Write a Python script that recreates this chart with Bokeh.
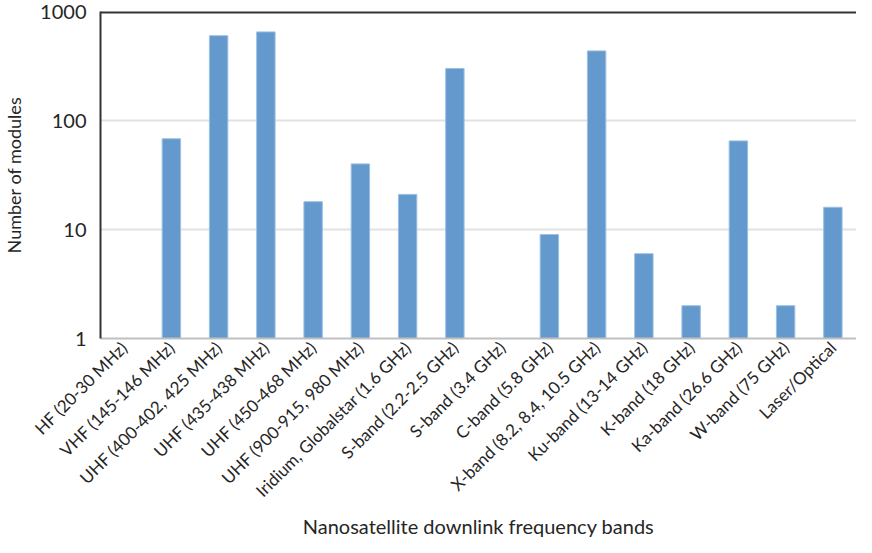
from bokeh.plotting import figure
from bokeh.models import ColumnDataSource, FixedTicker, PrintfTickFormatter, Span, Range1d, Title
from bokeh.embed import file_html
from bokeh.resources import INLINE
import math

bands = [
    "HF (20-30 MHz)",
    "VHF (145-146 MHz)",
    "UHF (400-402, 425 MHz)",
    "UHF (435-438 MHz)",
    "UHF (450-468 MHz)",
    "UHF (900-915, 980 MHz)",
    "Iridium, Globalstar (1.6 GHz)",
    "S-band (2.2-2.5 GHz)",
    "S-band (3.4 GHz)",
    "C-band (5.8 GHz)",
    "X-band (8.2, 8.4, 10.5 GHz)",
    "Ku-band (13-14 GHz)",
    "K-band (18 GHz)",
    "Ka-band (26.6 GHz)",
    "W-band (75 GHz)",
    "Laser/Optical",
]
modules = [1, 68, 600, 650, 18, 40, 21, 300, 1, 9, 435, 6, 2, 65, 2, 16]
y_ticks = [1, 10, 100, 1000]
x_title = "Nanosatellite downlink frequency bands"

FONT = "Lato"
TXT = "#262626"

src = ColumnDataSource(dict(band=bands, top=modules, bottom=[1] * len(modules)))

p = figure(
    x_range=bands,
    y_axis_type="log",
    y_range=Range1d(1, 1000),
    width=856,
    height=537,
    output_backend="svg",
    toolbar_location=None,
    min_border_left=0,
    min_border_right=0,
    min_border_top=11,
    min_border_bottom=0,
)

p.vbar(x="band", top="top", bottom="bottom", width=0.39, source=src,
       fill_color="#6399CC", line_color="#9DBFE3", line_width=1)

p.add_layout(Span(location=1000, dimension="width", line_color="#333333", line_width=4))

p.outline_line_color = None
p.xgrid.grid_line_color = None
p.ygrid.grid_line_color = "#E2E2E2"
p.ygrid.grid_line_width = 2
p.ygrid.ticker = FixedTicker(ticks=y_ticks)

p.yaxis.ticker = FixedTicker(ticks=y_ticks, minor_ticks=[])
p.yaxis.formatter = PrintfTickFormatter(format="%d")
p.yaxis.axis_line_color = "#333333"
p.yaxis.axis_line_width = 2
p.yaxis.major_tick_line_color = None
p.yaxis.minor_tick_line_color = None
p.yaxis.major_label_text_font = FONT
p.yaxis.major_label_text_font_size = "20px"
p.yaxis.major_label_text_color = TXT
p.yaxis.major_label_standoff = 8
p.yaxis.axis_label = "Number of modules"
p.yaxis.axis_label_text_font = FONT
p.yaxis.axis_label_text_font_size = "18px"
p.yaxis.axis_label_text_font_style = "normal"
p.yaxis.axis_label_text_color = TXT
p.yaxis.axis_label_standoff = 12

p.xaxis.axis_line_color = "#C0C0C0"
p.xaxis.axis_line_width = 2
p.xaxis.major_tick_line_color = None
p.xaxis.minor_tick_line_color = None
p.xaxis.major_tick_out = 0
p.xaxis.major_tick_in = 0
p.xaxis.major_label_orientation = math.pi / 4
p.xaxis.major_label_text_font = FONT
p.xaxis.major_label_text_font_size = "17px"
p.xaxis.major_label_text_color = TXT
p.xaxis.major_label_standoff = 6

p.add_layout(Title(text=x_title, align="center", text_font=FONT,
                   text_font_size="20px", text_font_style="normal",
                   text_color=TXT, standoff=0, offset=0), "below")

open("out.html", "w").write(file_html(p, INLINE))
